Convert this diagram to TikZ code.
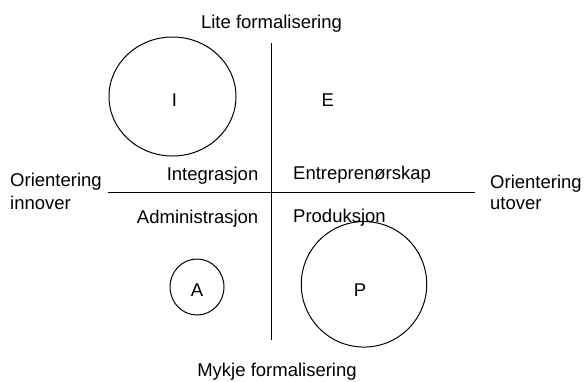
\documentclass[tikz,border=0pt]{standalone}
\usepackage{fontspec}
\setmainfont{Liberation Sans}
\usetikzlibrary{shapes.geometric}
\begin{document}
\begin{tikzpicture}[x=1pt,y=-1pt,
  lbl/.style={inner sep=0pt, font=\fontsize{18.5}{22.6}\selectfont},
  axis/.style={draw=black, line width=1.2pt},
  group/.style={draw=black, line width=1pt, ellipse, inner sep=0pt}]
  \useasboundingbox (0,0) rectangle (585,381);

  % axes
  \coordinate (vtop) at (271.5,43);
  \coordinate (vbot) at (271.5,340);
  \coordinate (hleft) at (108,192.3);
  \coordinate (hright) at (475,192.3);
  \draw[axis] (vtop) -- (vbot);
  \draw[axis] (hleft) -- (hright);

  % axis labels
  \node[lbl, anchor=base] (top) at (271.5,28.3) {Lite formalisering};
  \node[lbl, anchor=base] (bottom) at (277,376.7) {Mykje formalisering};
  \node[lbl, anchor=base west] (left1) at (10,186.7) {Orientering};
  \node[lbl, anchor=base west] (left2) at (10,209.3) {innover};
  \node[lbl, anchor=base west] (right1) at (490,188.3) {Orientering};
  \node[lbl, anchor=base west] (right2) at (490,209.3) {utover};

  % quadrant labels
  \node[lbl, anchor=base east] (integ) at (258.5,180) {Integrasjon};
  \node[lbl, anchor=base west] (entre) at (293,179.5) {Entreprenørskap};
  \node[lbl, anchor=base east] (admin) at (258.5,223) {Administrasjon};
  \node[lbl, anchor=base west] (prod) at (293,222.7) {Produksjon};

  % groups
  \node[group, minimum width=127, minimum height=119] (cI) at (172.5,96.5) {};
  \node[lbl, anchor=base] (tI) at (174.5,106) {I};
  \node[lbl, anchor=base] (tE) at (327.7,106) {E};
  \node[group, minimum width=54, minimum height=56] (cA) at (197,287) {};
  \node[lbl, anchor=base] (tA) at (197,296.7) {A};
  \node[group, minimum width=125.5, minimum height=125.5] (cP) at (364,284.3) {};
  \node[lbl, anchor=base] (tP) at (360,296.7) {P};
\end{tikzpicture}
\end{document}
